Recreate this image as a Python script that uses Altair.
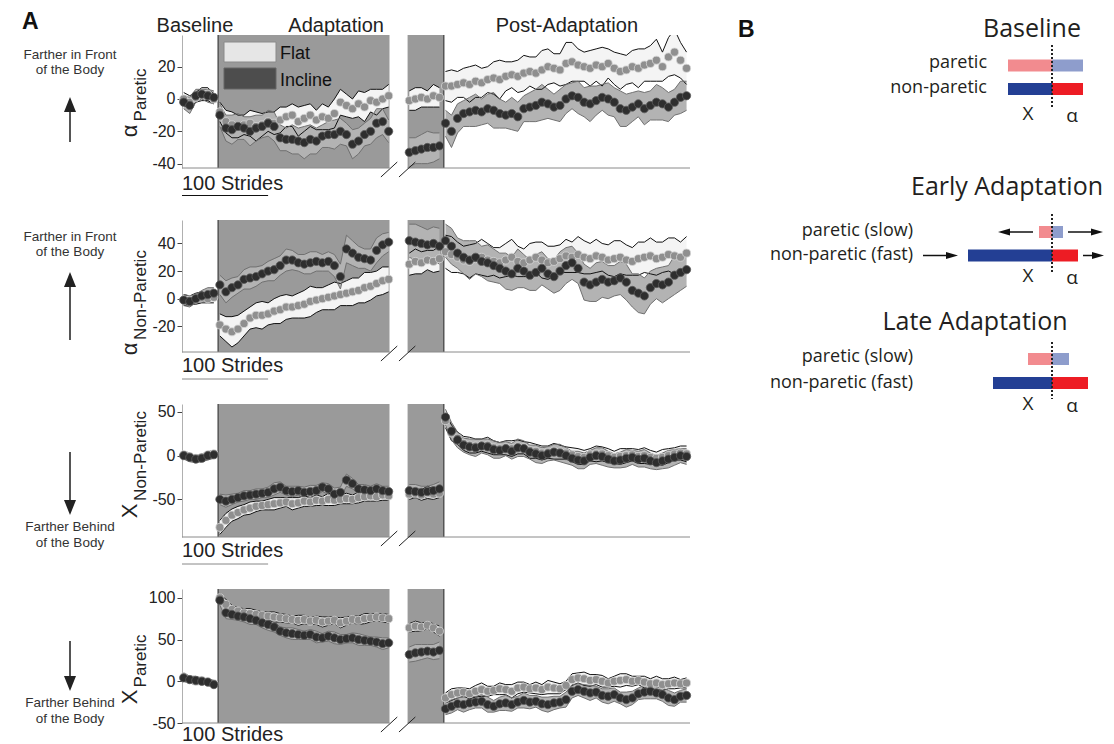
import altair as alt
import pandas as pd

FONT = "Liberation Sans"
BFONT = "Open Sans"

# ---------------- Panel A data ----------------
BASE_STRIDES = list(range(2, 38, 7))
ADAPT_STRIDES = list(range(44, 241, 7))
LATE_STRIDES = list(range(264, 300, 7))
POST_STRIDES = list(range(306, 587, 7))
SEG_STRIDES = {"base": BASE_STRIDES, "adapt": ADAPT_STRIDES, "late": LATE_STRIDES, "post": POST_STRIDES}

ADAPT_SPAN = [42, 241]
LATE_SPAN = [262, 304]
X_MAX = 590
SCALE_BAR = [0, 100]
BREAKS = [[231, 250], [252, 271]]
AXIS_SEGMENTS = [[0, 241], [262, 590]]

PHASES = ["Baseline", "Adaptation", "Post-Adaptation"]
PHASE_CENTERS = [15, 179, 447]
SERIES = ["Flat", "Incline"]

# Row 1: alpha paretic
R1_FLAT_MEAN = {
    "base": [0, -2, 1, 3, 3, 0],
    "adapt": [-8, -14, -16, -17, -16, -15, -17, -16, -14, -15, -13, -11, -10, -14, -12,
              -10, -13, -11, -12, -9, -2, -4, -6, -3, -5, -1, -2, 0, 2],
    "late": [-1, 0, 1, 0, 2, 1],
    "post": [8, 8, 9, 10, 9, 11, 10, 12, 13, 12, 14, 15, 14, 16, 17, 16, 18, 20, 19, 18,
             22, 23, 21, 20, 19, 21, 20, 22, 19, 17, 18, 20, 19, 21, 22, 24, 20, 26, 29, 24, 19],
}
R1_FLAT_SD = {
    "base": [4, 4, 3, 4, 4, 3],
    "adapt": [6, 7, 8, 7, 6, 8, 9, 7, 6, 7, 8, 6, 7, 9, 8, 7, 6, 8, 7, 9, 8, 7, 6, 8, 9, 7, 8, 6, 7],
    "late": [6, 7, 6, 5, 7, 6],
    "post": [9, 10, 8, 9, 11, 10, 9, 8, 10, 12, 9, 8, 10, 11, 9, 10, 12, 11, 9, 10, 13, 12, 10, 9,
             11, 10, 12, 9, 10, 11, 9, 10, 12, 10, 11, 13, 9, 12, 14, 11, 10],
}
R1_INC_MEAN = {
    "base": [-2, -4, 2, 3, 2, 1],
    "adapt": [-10, -18, -19, -17, -18, -20, -18, -17, -15, -17, -24, -25, -25, -26, -27,
              -25, -26, -23, -22, -22, -20, -22, -28, -26, -22, -20, -15, -14, -20],
    "late": [-33, -32, -31, -30, -30, -29],
    "post": [-15, -20, -12, -9, -8, -7, -8, -6, -7, -9, -10, -9, -11, -6, -5, -4, -2, -3, -5, -4,
             0, 2, 1, -2, -3, -1, 1, 0, -2, -6, -7, -5, -3, -6, -4, -2, -3, -5, -2, 1, 2],
}
R1_INC_SD = {
    "base": [4, 5, 4, 3, 4, 4],
    "adapt": [7, 8, 9, 8, 7, 9, 8, 7, 8, 9, 8, 7, 9, 8, 10, 9, 8, 7, 8, 9, 8, 7, 9, 8, 7, 8, 9, 8, 7],
    "late": [9, 8, 9, 10, 9, 8],
    "post": [8, 10, 9, 8, 9, 10, 8, 9, 11, 9, 8, 10, 9, 8, 9, 10, 11, 9, 8, 10, 9, 8, 10, 9, 11,
             9, 8, 10, 9, 11, 10, 9, 8, 10, 9, 11, 10, 9, 8, 10, 9],
}

# Row 2: alpha non-paretic
R2_FLAT_MEAN = {
    "base": [-1, -1, 0, 1, 0, 1],
    "adapt": [-19, -22, -24, -22, -18, -14, -12, -12, -11, -9, -8, -6, -6, -5, -4, -2, -1, 0,
              1, 2, 3, 4, 5, 6, 8, 9, 11, 13, 14],
    "late": [25, 27, 26, 28, 27, 29],
    "post": [34, 32, 30, 28, 27, 29, 30, 28, 27, 26, 28, 30, 27, 26, 28, 30, 28, 26, 27, 29,
             31, 30, 32, 30, 29, 31, 30, 28, 29, 30, 28, 27, 29, 30, 31, 29, 30, 32, 31, 30, 33],
}
R2_FLAT_SD = {
    "base": [4, 3, 4, 4, 3, 4],
    "adapt": [8, 9, 11, 10, 9, 8, 9, 10, 8, 9, 10, 9, 8, 9, 10, 11, 9, 8, 9, 10, 8, 9, 10, 9, 11, 10, 9, 10, 9],
    "late": [8, 9, 8, 7, 8, 9],
    "post": [12, 13, 11, 10, 12, 11, 13, 12, 10, 11, 12, 13, 11, 10, 12, 11, 13, 12, 11, 10, 12,
             11, 13, 12, 11, 12, 10, 11, 13, 12, 11, 10, 12, 11, 13, 12, 11, 12, 13, 11, 12],
}
R2_INC_MEAN = {
    "base": [-1, -2, 0, 2, 3, 4],
    "adapt": [10, 5, 8, 10, 14, 15, 16, 18, 20, 21, 24, 28, 28, 26, 25, 26, 27, 26, 27, 24,
              16, 36, 33, 30, 29, 28, 35, 39, 41],
    "late": [42, 41, 40, 39, 40, 38],
    "post": [42, 38, 33, 30, 28, 30, 27, 26, 24, 22, 20, 18, 22, 20, 17, 19, 22, 18, 16, 20,
             24, 26, 22, 12, 10, 12, 14, 12, 13, 15, 12, 6, 4, 2, 8, 11, 10, 12, 17, 19, 21],
}
R2_INC_SD = {
    "base": [4, 4, 3, 4, 5, 4],
    "adapt": [7, 8, 7, 6, 7, 8, 7, 6, 7, 8, 7, 8, 7, 6, 7, 8, 7, 6, 7, 8, 9, 10, 9, 8, 7, 8, 9, 8, 7],
    "late": [12, 13, 12, 11, 12, 13],
    "post": [12, 13, 11, 12, 14, 12, 11, 13, 12, 11, 13, 12, 14, 12, 11, 13, 12, 11, 12, 14, 13,
             12, 11, 13, 12, 14, 13, 12, 11, 12, 13, 12, 14, 13, 12, 11, 13, 12, 14, 13, 12],
}

# Row 3: X non-paretic
R3_FLAT_MEAN = {
    "base": [1, -1, -3, -2, 1, 2],
    "adapt": [-82, -74, -68, -65, -62, -60, -58, -57, -56, -55, -54, -53, -55, -54, -52,
              -53, -51, -52, -50, -51, -50, -49, -50, -48, -47, -46, -47, -45, -46],
    "late": [-44, -43, -45, -42, -44, -43],
    "post": [40, 26, 20, 14, 12, 11, 12, 12, 9, 8, 9, 8, 10, 9, 6, 5, 3, 4, 5, 4, 3, 1, -1, -2,
             1, 2, 2, 0, -2, -1, 0, 1, -1, 0, -2, -3, -2, 0, 2, 3, 2],
}
R3_FLAT_SD = {
    "base": [4, 4, 3, 4, 3, 4],
    "adapt": [8, 8, 7, 7, 6, 7, 6, 5, 6, 7, 6, 5, 7, 6, 6, 5, 6, 5, 7, 6, 5, 6, 5, 6, 5, 6, 5, 6, 5],
    "late": [6, 5, 6, 7, 6, 5],
    "post": [8, 9, 7, 8, 9, 8, 7, 9, 8, 7, 8, 9, 8, 7, 9, 8, 8, 7, 9, 8, 7, 8, 9, 8, 7, 9, 8, 8,
             7, 9, 8, 7, 8, 9, 8, 7, 9, 8, 7, 8, 9],
}
R3_INC_MEAN = {
    "base": [0, -2, -4, -3, 0, 1],
    "adapt": [-50, -52, -50, -48, -46, -45, -44, -43, -42, -38, -36, -40, -41, -40, -42,
              -41, -40, -36, -38, -44, -42, -28, -32, -38, -39, -40, -38, -40, -41],
    "late": [-40, -41, -42, -41, -40, -38],
    "post": [44, 28, 18, 12, 10, 9, 11, 10, 7, 6, 8, 5, 9, 8, 4, 2, 0, 2, 4, 3, 0, -3, -5, -6,
             -2, 0, -1, -4, -6, -5, -3, -2, -4, -3, -6, -8, -6, -4, -2, 0, -1],
}
R3_INC_SD = {
    "base": [4, 5, 4, 4, 5, 4],
    "adapt": [6, 7, 6, 5, 6, 5, 6, 5, 6, 7, 6, 5, 6, 5, 6, 7, 6, 5, 6, 7, 6, 7, 6, 5, 6, 5, 6, 5, 6],
    "late": [7, 8, 7, 6, 7, 8],
    "post": [9, 10, 9, 8, 9, 10, 8, 9, 10, 9, 8, 9, 10, 9, 8, 10, 9, 8, 9, 10, 9, 8, 10, 9, 8,
             9, 10, 9, 8, 9, 10, 8, 9, 10, 9, 8, 9, 10, 9, 8, 9],
}

# Row 4: X paretic
R4_FLAT_MEAN = {
    "base": [5, 2, 0, 1, -1, -3],
    "adapt": [100, 92, 86, 84, 82, 81, 80, 79, 78, 77, 76, 75, 74, 73, 74, 72, 73, 71, 72, 73,
              70, 72, 74, 73, 75, 76, 77, 76, 75],
    "late": [64, 66, 65, 67, 64, 60],
    "post": [-20, -16, -14, -13, -15, -12, -10, -12, -11, -9, -10, -12, -8, -7, -9, -8, -10, -7,
             -8, -9, -5, 2, 4, 3, 1, 2, 0, -2, 0, 1, 2, 0, 1, -1, -3, -2, -4, -3, -2, -3, -2],
}
R4_FLAT_SD = {
    "base": [5, 4, 4, 3, 4, 4],
    "adapt": [5, 6, 5, 4, 5, 6, 5, 4, 5, 6, 5, 5, 4, 6, 5, 4, 5, 6, 5, 4, 6, 5, 4, 5, 6, 5, 4, 5, 5],
    "late": [5, 6, 5, 4, 5, 6],
    "post": [6, 7, 6, 5, 6, 7, 8, 6, 5, 7, 6, 8, 7, 6, 5, 7, 6, 8, 7, 6, 5, 7, 6, 8, 7, 6, 7, 5,
             6, 8, 7, 6, 5, 7, 6, 8, 7, 6, 7, 5, 6],
}
R4_INC_MEAN = {
    "base": [4, 2, 1, 0, -1, -4],
    "adapt": [97, 82, 80, 78, 77, 75, 73, 70, 68, 65, 60, 58, 57, 56, 55, 56, 53, 52, 54, 52,
              50, 51, 52, 50, 49, 48, 47, 45, 46],
    "late": [32, 34, 35, 36, 35, 37],
    "post": [-33, -30, -27, -28, -26, -25, -24, -28, -30, -27, -26, -28, -25, -23, -25, -24, -27,
             -28, -26, -25, -22, -12, -10, -12, -14, -13, -17, -18, -16, -20, -22, -20, -15, -13,
             -12, -14, -16, -20, -22, -18, -17],
}
R4_INC_SD = {
    "base": [4, 4, 5, 4, 3, 4],
    "adapt": [6, 7, 6, 5, 6, 7, 5, 6, 7, 6, 5, 6, 7, 6, 5, 6, 7, 5, 6, 7, 6, 5, 6, 7, 6, 5, 6, 7, 6],
    "late": [9, 10, 9, 8, 9, 10],
    "post": [7, 8, 7, 9, 8, 7, 8, 9, 7, 8, 9, 8, 7, 9, 8, 7, 8, 9, 8, 7, 9, 8, 7, 8, 9, 7, 8, 9,
             8, 7, 9, 8, 7, 8, 9, 7, 8, 9, 8, 7, 8],
}

# ---------------- Panel B data ----------------
B_PHASES = ["Baseline", "Early Adaptation", "Late Adaptation"]
B_PARETIC_X = [44, 13, 24]
B_PARETIC_ALPHA = [31, 11, 17]
B_NONPARETIC_X = [44, 84, 59]
B_NONPARETIC_ALPHA = [31, 26, 36]
B_LIMB_LABELS = [["paretic", "non-paretic"],
                 ["paretic (slow)", "non-paretic (fast)"],
                 ["paretic (slow)", "non-paretic (fast)"]]

# ---------------- styles / layout ----------------
GRAY_BG = "#9a9a9a"
FLAT_BAND, FLAT_EDGE, FLAT_PT, FLAT_PT_EDGE = "#f4f4f4", "#111111", "#8f8f8f", "#d6d6d6"
INC_BAND, INC_EDGE, INC_PT, INC_PT_EDGE = "#b3b3b3", "#707070", "#2e2e2e", "#5c5c5c"
UP_HEAD = "M0,-1L0.8,1L-0.8,1Z"
DOWN_HEAD = "M0,1L0.8,-1L-0.8,-1Z"
RIGHT_HEAD = "M1,0L-1,-0.6L-1,0.6Z"
TXT = "#222222"


def series_df(name, mean, sd):
    rows = []
    for seg, strides in SEG_STRIDES.items():
        for s, m, d in zip(strides, mean[seg], sd[seg]):
            rows.append({"series": name, "seg": seg, "stride": s, "mean": m, "lo": m - d, "hi": m + d})
    return pd.DataFrame(rows)


def one(**kw):
    return pd.DataFrame({k: [v] for k, v in kw.items()})


def make_row(spec):
    h = spec["height"]
    xs = alt.Scale(domain=[0, X_MAX], nice=False, zero=False)
    ys = alt.Scale(domain=spec["domain"], nice=False, zero=False)
    yax = alt.Axis(values=spec["ticks"], title=None, grid=False, domainColor="#b0b0b0",
                   domainWidth=1, tickColor="#444444", tickSize=5, tickWidth=1,
                   labelFont=FONT, labelFontSize=16, labelColor=TXT, labelPadding=2,
                   labelExpr="'' + datum.value")

    def X(f):
        return alt.X(f, type="quantitative", scale=xs, axis=None)

    def Y(f):
        return alt.Y(f, type="quantitative", scale=ys, axis=yax)

    flat = series_df("Flat", spec["flat_mean"], spec["flat_sd"])
    inc = series_df("Incline", spec["inc_mean"], spec["inc_sd"])
    spans = pd.DataFrame({"x0": [ADAPT_SPAN[0], LATE_SPAN[0]], "x1": [ADAPT_SPAN[1], LATE_SPAN[1]]})
    edges = pd.DataFrame({"x": [ADAPT_SPAN[0], LATE_SPAN[1]]})

    L = []
    L.append(alt.Chart(spans).mark_rect(color=GRAY_BG).encode(
        x=X("x0"), x2="x1", y=alt.value(0), y2=alt.value(h)))
    L.append(alt.Chart(edges).mark_rule(color="#555555", strokeWidth=1.5).encode(
        x=X("x"), y=alt.value(0), y2=alt.value(h)))
    L.append(alt.Chart(flat).mark_area(color=FLAT_BAND, opacity=1, clip=True).encode(
        x=X("stride"), y=Y("lo"), y2="hi", detail="seg:N"))
    L.append(alt.Chart(inc).mark_area(color=INC_BAND, opacity=1, clip=True).encode(
        x=X("stride"), y=Y("lo"), y2="hi", detail="seg:N"))
    for col in ["lo", "hi"]:
        L.append(alt.Chart(flat).mark_line(color=FLAT_EDGE, strokeWidth=1, clip=True).encode(
            x=X("stride"), y=Y(col), detail="seg:N"))
    for col in ["lo", "hi"]:
        L.append(alt.Chart(inc).mark_line(color=INC_EDGE, strokeWidth=1, clip=True).encode(
            x=X("stride"), y=Y(col), detail="seg:N"))
    L.append(alt.Chart(flat).mark_circle(size=65, color=FLAT_PT, stroke=FLAT_PT_EDGE,
                                         strokeWidth=0.8, opacity=1).encode(x=X("stride"), y=Y("mean")))
    L.append(alt.Chart(inc).mark_circle(size=68, color=INC_PT, stroke=INC_PT_EDGE,
                                        strokeWidth=0.8, opacity=1).encode(x=X("stride"), y=Y("mean")))
    # broken x axis line and break marks
    segs = pd.DataFrame(AXIS_SEGMENTS, columns=["x0", "x1"])
    L.append(alt.Chart(segs).mark_rule(color="#8a8a8a", strokeWidth=1).encode(
        x=X("x0"), x2="x1", y=alt.value(h)))
    brk = pd.DataFrame(BREAKS, columns=["x0", "x1"])
    L.append(alt.Chart(brk).mark_rule(color="#222222", strokeWidth=1).encode(
        x=X("x0"), x2="x1", y=alt.value(h + 9), y2=alt.value(h - 6)))
    # scale bar
    if spec["bar_off"] is not None:
        L.append(alt.Chart(one(x0=SCALE_BAR[0], x1=SCALE_BAR[1])).mark_rule(
            color=spec["bar_color"], strokeWidth=1).encode(x=X("x0"), x2="x1", y=alt.value(h + spec["bar_off"])))
    L.append(alt.Chart(one(x=SCALE_BAR[0], t="100 Strides")).mark_text(
        align="left", baseline="alphabetic", font=FONT, fontSize=20, color=TXT).encode(
        x=X("x"), y=alt.value(h + spec["text_off"]), text="t:N"))
    # y title with subscript
    L.append(alt.Chart(one(t=spec["sym"])).mark_text(
        angle=270, align="center", baseline="middle", font=FONT, fontSize=22, color=TXT).encode(
        x=alt.value(-52), y=alt.value(spec["sym_y"]), text="t:N"))
    L.append(alt.Chart(one(t=spec["sub"])).mark_text(
        angle=270, align="center", baseline="middle", font=FONT, fontSize=17, color=TXT).encode(
        x=alt.value(-41), y=alt.value(spec["sub_y"]), text="t:N"))
    # left annotation
    for line, yb in zip(spec["note"], spec["note_y"]):
        L.append(alt.Chart(one(t=line)).mark_text(
            align="center", baseline="alphabetic", font=FONT, fontSize=13.5, color="#333333").encode(
            x=alt.value(-112), y=alt.value(yb), text="t:N"))
    a0, a1, hc, shape = spec["arrow"]
    L.append(alt.Chart(one(a=0)).mark_rule(color="#555555", strokeWidth=2).encode(
        x=alt.value(-112), y=alt.value(a0), y2=alt.value(a1)))
    L.append(alt.Chart(one(a=0)).mark_point(shape=shape, size=225, filled=True, color="#222222",
                                            opacity=1).encode(x=alt.value(-112), y=alt.value(hc)))
    if spec.get("first"):
        ph = pd.DataFrame({"c": PHASE_CENTERS, "t": PHASES})
        L.append(alt.Chart(ph).mark_text(align="center", baseline="alphabetic", font=FONT,
                                         fontSize=20, color=TXT).encode(
            x=X("c"), y=alt.value(-3), text="t:N"))
        L.append(alt.Chart(one(t="A")).mark_text(align="left", baseline="alphabetic", font=FONT,
                                                 fontSize=23, fontWeight="bold", color="#111111").encode(
            x=alt.value(-160), y=alt.value(-6), text="t:N"))
        # legend
        L.append(alt.Chart(one(t=SERIES[0])).mark_rect(fill="#e6e6e6", stroke="#8a8a8a", strokeWidth=1).encode(
            x=alt.value(42), x2=alt.value(94), y=alt.value(7), y2=alt.value(27)))
        L.append(alt.Chart(one(t=SERIES[1])).mark_rect(fill="#4d4d4d", stroke="#666666", strokeWidth=1).encode(
            x=alt.value(42), x2=alt.value(94), y=alt.value(33), y2=alt.value(54)))
        L.append(alt.Chart(one(t=SERIES[0])).mark_text(align="left", baseline="alphabetic", font=FONT,
                                                       fontSize=18, color="#111111").encode(
            x=alt.value(98), y=alt.value(24), text="t:N"))
        L.append(alt.Chart(one(t=SERIES[1])).mark_text(align="left", baseline="alphabetic", font=FONT,
                                                       fontSize=18, color="#111111").encode(
            x=alt.value(98), y=alt.value(51), text="t:N"))
    return alt.layer(*L).properties(width=508, height=h)


rows = [
    dict(height=133, domain=[-42.7, 39.6], ticks=[-40, -20, 0, 20],
         flat_mean=R1_FLAT_MEAN, flat_sd=R1_FLAT_SD, inc_mean=R1_INC_MEAN, inc_sd=R1_INC_SD,
         sym="α", sub="Paretic", sym_y=96, sub_y=60,
         note=["Farther in Front", "of the Body"], note_y=[24, 39], arrow=(77, 107, 69.5, UP_HEAD),
         bar_off=27.5, bar_color="#111111", text_off=22, first=True),
    dict(height=132, domain=[-38.6, 57], ticks=[-20, 0, 20, 40],
         flat_mean=R2_FLAT_MEAN, flat_sd=R2_FLAT_SD, inc_mean=R2_INC_MEAN, inc_sd=R2_INC_SD,
         sym="α", sub="Non-Paretic", sym_y=129, sub_y=75,
         note=["Farther in Front", "of the Body"], note_y=[21, 36], arrow=(67, 120, 59.5, UP_HEAD),
         bar_off=27, bar_color="#888888", text_off=20),
    dict(height=133, domain=[-93, 59], ticks=[-50, 0, 50],
         flat_mean=R3_FLAT_MEAN, flat_sd=R3_FLAT_SD, inc_mean=R3_INC_MEAN, inc_sd=R3_INC_SD,
         sym="X", sub="Non-Paretic", sym_y=107, sub_y=52,
         note=["Farther Behind", "of the Body"], note_y=[127, 143], arrow=(48, 96, 103.5, DOWN_HEAD),
         bar_off=27, bar_color="#888888", text_off=20),
    dict(height=134, domain=[-50, 110.5], ticks=[-50, 0, 50, 100],
         flat_mean=R4_FLAT_MEAN, flat_sd=R4_FLAT_SD, inc_mean=R4_INC_MEAN, inc_sd=R4_INC_SD,
         sym="X", sub="Paretic", sym_y=108, sub_y=72,
         note=["Farther Behind", "of the Body"], note_y=[118, 134], arrow=(52, 87, 94.5, DOWN_HEAD),
         bar_off=None, bar_color="#888888", text_off=18),
]

panel_a = alt.vconcat(*[make_row(r) for r in rows], spacing=23)

# ---------------- Panel B ----------------
BXS = alt.Scale(domain=[-316, 52], nice=False, zero=False)
BYS = alt.Scale(domain=[23, 443], nice=False, zero=False, reverse=True)


def BX(f):
    return alt.X(f, type="quantitative", scale=BXS, axis=None)


def BY(f):
    return alt.Y(f, type="quantitative", scale=BYS, axis=None)


B_TITLE_POS = [(-20, 25), (-45, 183), (-77, 318)]
B_ROW_Y = [(53.5, 77), (220, 243.5), (347, 371)]
B_LABEL_X = [-65, -139, -139]
B_LABEL_Y = [(56, 81), (224, 248), (350, 376)]
B_XA_Y = [108, 270, 398]
B_DOT_Y = [(33, 95), (202, 260), (330, 387)]
B_ARROWS = [(-19, -54, 220), (16, 51, 220), (-129, -94, 243.5), (31, 52, 243.5)]
B_HALF = 6

bars, titles, labels, xa, dots = [], [], [], [], []
for i, ph in enumerate(B_PHASES):
    yp, yn = B_ROW_Y[i]
    bars += [
        dict(x0=-B_PARETIC_X[i], x1=0, y0=yp - B_HALF, y1=yp + B_HALF, c="#f28b8f"),
        dict(x0=0, x1=B_PARETIC_ALPHA[i], y0=yp - B_HALF, y1=yp + B_HALF, c="#8e9dcc"),
        dict(x0=-B_NONPARETIC_X[i], x1=0, y0=yn - B_HALF, y1=yn + B_HALF, c="#233f94"),
        dict(x0=0, x1=B_NONPARETIC_ALPHA[i], y0=yn - B_HALF, y1=yn + B_HALF, c="#ed1c24"),
    ]
    titles.append(dict(x=B_TITLE_POS[i][0], y=B_TITLE_POS[i][1], t=ph))
    labels.append(dict(x=B_LABEL_X[i], y=B_LABEL_Y[i][0], t=B_LIMB_LABELS[i][0]))
    labels.append(dict(x=B_LABEL_X[i], y=B_LABEL_Y[i][1], t=B_LIMB_LABELS[i][1]))
    xa.append(dict(x=-24, y=B_XA_Y[i], t="X"))
    xa.append(dict(x=20, y=B_XA_Y[i] + 2, t="α"))
    dots.append(dict(x=0, y0=B_DOT_Y[i][0], y1=B_DOT_Y[i][1]))

arrows = []
for x0, tip, y in B_ARROWS:
    d = 1 if tip > x0 else -1
    arrows.append(dict(x0=x0, xs=tip - d * 6, hx=tip - d * 6, y=y, ang=0 if d > 0 else 180))

bars_df = pd.DataFrame(bars)
panel_b = alt.layer(
    alt.Chart(bars_df).mark_rect().encode(x=BX("x0"), x2="x1", y=BY("y0"), y2="y1",
                                          color=alt.Color("c:N", scale=None)),
    alt.Chart(pd.DataFrame(dots)).mark_rule(strokeDash=[2, 2], strokeWidth=2, color="#222222").encode(
        x=BX("x"), y=BY("y0"), y2="y1"),
    alt.Chart(pd.DataFrame(titles)).mark_text(align="center", baseline="alphabetic", font=BFONT,
                                              fontSize=25, color="#231f20").encode(
        x=BX("x"), y=BY("y"), text="t:N"),
    alt.Chart(pd.DataFrame(labels)).mark_text(align="right", baseline="alphabetic", font=BFONT,
                                              fontSize=18, color="#231f20").encode(
        x=BX("x"), y=BY("y"), text="t:N"),
    alt.Chart(pd.DataFrame(xa)).mark_text(align="center", baseline="alphabetic", font=BFONT,
                                          fontSize=19, color="#231f20").encode(
        x=BX("x"), y=BY("y"), text="t:N"),
    alt.Chart(pd.DataFrame(arrows)).mark_rule(color="#111111", strokeWidth=1.5).encode(
        x=BX("x0"), x2="xs", y=BY("y")),
    alt.Chart(pd.DataFrame(arrows)).mark_point(shape=RIGHT_HEAD, size=144, filled=True,
                                               color="#111111", opacity=1).encode(
        x=BX("hx"), y=BY("y"), angle=alt.Angle("ang:Q", scale=None)),
    alt.Chart(one(x=-314, y=25, t="B")).mark_text(align="left", baseline="alphabetic", font=FONT,
                                                  fontSize=23, fontWeight="bold", color="#111111").encode(
        x=BX("x"), y=BY("y"), text="t:N"),
).properties(width=368, height=420)

chart = alt.hconcat(panel_a, panel_b, spacing=43).properties(
    padding={"left": 14, "top": 3, "right": 0, "bottom": 0}
).configure_view(stroke=None)

chart.save("out.html", embed_options={"renderer": "svg", "actions": False})
